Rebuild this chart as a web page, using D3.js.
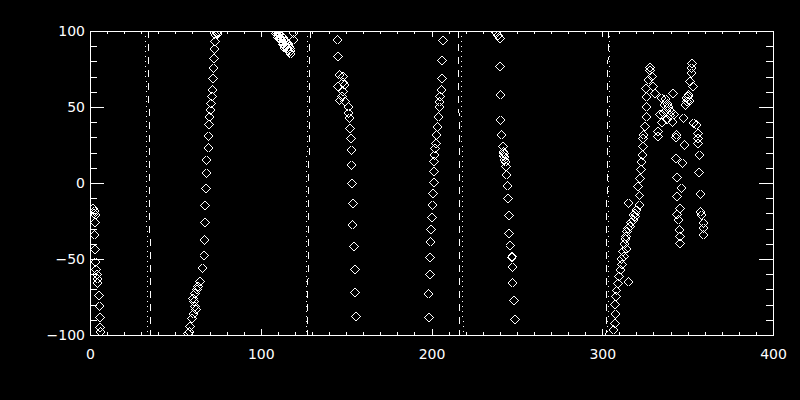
<!DOCTYPE html>
<html>
<head>
<meta charset="utf-8">
<script src="https://cdn.jsdelivr.net/npm/d3@7"></script>
<style>
  body { margin: 0; background: #000; }
  text { font-family: "DejaVu Sans", sans-serif; font-size: 14px; fill: #fff; }
</style>
</head>
<body>
<script>
// Screen dimensions.
const WIDTH = 800;
const HEIGHT = 400;

// Tick labels
const X_LABELS = [0, 100, 200, 300, 400];
const Y_LABELS = [-100, -50, 0, 50, 100];

// Boundary lines (x at y=+100 and x at y=-100)
const dashedTop = [34.2, 128.9, 215.9, 303.5];
const dashedBottom = [35.6, 127.4, 216.7, 302.2];
const dottedTop = [32.6, 127.5, 217.5, 304.5];
const dottedBottom = [33.8, 126.5, 218.5, 303.3];

// Points, [x, y]
const trackA = [
  [1.8, -17], [2.3, -20], [2.5, -18.5], [3, -21], [2.7, -26], [2.7, -34], [2.9, -44],
  [3.3, -52], [3.4, -57], [4.3, -63], [4.5, -66], [4.0, -60], [5.1, -74], [5.7, -81],
  [5.7, -88.6], [5.9, -95], [6.0, -98]
];
const trackB = [
  [58.2, -97.8], [57.5, -99], [58.6, -94.5], [59.6, -89], [60.5, -86], [61.5, -81.4],
  [62, -83], [61, -78], [60.2, -76], [61.5, -72.6], [62.5, -70], [63.3, -68], [64.4, -64.9],
  [66, -56.1], [66.8, -47.8], [66.8, -37.5], [67.3, -26.1], [67.3, -14.9], [67.8, -3.5],
  [68.3, 6.4], [68.3, 15.1], [69.3, 23.2], [69.3, 30.9], [69.7, 38.2], [69.9, 43.6],
  [70.3, 48], [70.7, 52.4], [71.3, 56.8], [71.6, 61.2], [71.9, 68.9], [72.2, 75.5],
  [72.8, 82], [72.8, 88], [73.2, 93], [73.6, 97.4], [74.2, 98.9], [75, 99.5], [74.8, 98]
];
const trackC = [
  [108.8, 98.5], [109.5, 97.5], [110.2, 96.8], [110.8, 95.5], [111.5, 94.8], [112, 93.5],
  [112.8, 92.8], [113.5, 91.5], [114.2, 90.5], [114.8, 89.5], [115.5, 88.5], [116, 87.2],
  [116.8, 86], [117.3, 85], [111, 98], [113, 95.5], [115, 92], [116.5, 89.8],
  [109.8, 99], [110.5, 98.2], [112.2, 96.5], [113.8, 94], [114.5, 93], [116, 91],
  [117, 88.5], [117.5, 87], [110, 95.8], [112.5, 91.8], [114, 89],
  [119, 98.6], [119, 94.2]
];
const trackD = [
  [145.1, 94.1], [145.1, 83.1], [146, 71.1], [148.3, 69.9], [145.4, 63.4], [149.3, 64.5],
  [148.3, 60.1], [146.4, 54.6], [149.3, 53.5], [147.5, 57], [148, 66], [151.3, 50.2],
  [151.3, 45.9], [151.9, 42.6], [152.3, 36], [152.9, 29.4], [152.9, 21.7], [153.3, 11.8],
  [153.3, -0.2], [153.9, -13.4], [153.9, -27.6], [154.6, -41.9], [155.2, -57.2],
  [155.2, -72.2], [155.8, -88]
];
const trackE = [
  [206.6, 93.6], [206, 80.5], [206, 68.9], [205.6, 61.2], [205, 56.8], [204.6, 53.5],
  [204.6, 49.8], [204, 43.6], [203.6, 37], [203.1, 31.6], [202.6, 26.1], [202.1, 22.8],
  [201.6, 18.4], [201.6, 14], [201.5, 7.4], [201.5, 0.5], [200.7, -6.8], [200.7, -14.5],
  [200.1, -22.8], [199.5, -30.5], [199.5, -38.6], [199.1, -48.9], [199.1, -59.9],
  [198.4, -73], [198.4, -88.4]
];
const trackF = [
  [237.5, 99.5], [238.2, 98.5], [239, 97], [240.1, 95.2], [240.1, 76.5], [240.5, 57.9],
  [240.5, 41.4], [241.1, 31.6], [241.7, 23.9], [242.2, 18], [242, 20.5], [242.5, 19.5],
  [242.8, 17], [243, 15.1], [243.3, 14], [243.6, 10.7], [244, 5.3], [244.6, -1.8],
  [245, -10.1], [245.4, -21.1], [245.4, -33.1], [246, -41.4], [247, -49.1], [247.3, -48.5],
  [247.5, -55.5], [247.5, -65.6], [248.3, -77.4], [248.9, -89.5]
];
const trackG = [
  [306.5, -96.7], [307.5, -92.3], [307.5, -86.2], [307.5, -79.8], [308.1, -74.8],
  [308.5, -70.4], [309.4, -66], [310, -61.6], [310.8, -57.2], [311.7, -53.5], [311, -50],
  [312.7, -48.5], [312, -45], [314.3, -43.4], [313, -40], [313.5, -37], [314, -35],
  [315.3, -64.9], [314.3, -32], [315, -30], [316.2, -28.8], [317, -26], [318.2, -24.3],
  [319.2, -22.2], [318.2, -21.1], [319, -20], [320, -18], [315.3, -13.4], [321.7, -14.5],
  [321.7, -7.9], [321.1, -2.4], [322.1, 3.1], [322.7, 8.6], [323.1, 14], [323.5, 18.4],
  [324, 23.9], [324, 29.4], [324, 31.6], [325, 37], [326, 43.6], [326, 50.2], [326, 56.8],
  [325.6, 62.3], [327, 67.8], [328, 74.3], [328, 75.7], [329, 69.9], [329.9, 63.4],
  [330.9, 59]
];
const trackH = [
  [334.8, 55.7], [336.7, 51.3], [337.7, 48], [339.7, 44.7], [341.6, 59], [337, 55],
  [338, 52], [339, 50], [340, 47], [336, 46], [341, 40], [338, 42], [342, 45], [334, 45],
  [335, 40], [332.8, 33.8], [343.6, 31.6], [347.5, 42.6], [353.3, 39.3], [355.3, 38.2],
  [356.2, 32.7], [332.8, 30.5], [343.2, 29.8], [347.9, 25], [343.2, 16.3], [347.1, 13],
  [343.6, 3.5], [346.5, -3.5], [343.6, -9], [345.5, -16.6], [343.9, -20.6], [344.5, -24.3],
  [345.5, -30.9], [345.5, -35.3], [345.5, -39.7]
];
const trackI = [
  [352.4, 78.6], [352.4, 75.5], [352.4, 72.2], [351.4, 66.6], [353, 63.4], [350.4, 56.8],
  [349.5, 53.5], [348.5, 51.3], [349.5, 56], [350.5, 58], [351, 54], [356.2, 29.4],
  [356.2, 26.1], [357.2, 18.4], [356.8, 7], [357.6, -7.4], [357.6, -18.9], [358.2, -21.1],
  [359.2, -26.5], [359.2, -29.8], [359.2, -34.2]
];

const tracks = [trackA, trackB, trackC, trackD, trackE, trackF, trackG, trackH, trackI];

// Plot area
const LEFT = 90, RIGHT = 773, TOP = 31, BOTTOM = 335;

const x = d3.scaleLinear().domain([0, 400]).range([LEFT, RIGHT]);
const y = d3.scaleLinear().domain([-100, 100]).range([BOTTOM, TOP]);

const svg = d3.select("body").append("svg").attr("width", WIDTH).attr("height", HEIGHT);

svg.append("defs").append("clipPath").attr("id", "plot")
  .append("rect").attr("x", LEFT).attr("y", TOP)
  .attr("width", RIGHT - LEFT).attr("height", BOTTOM - TOP);

const minorX = d3.range(0, 401, 10);
const minorY = d3.range(-100, 101, 10);

function styleAxis(g) {
  g.select(".domain").remove();
  g.selectAll("line").attr("stroke", "#fff").attr("shape-rendering", "crispEdges");
  g.selectAll("text").attr("fill", "#fff").style("font-size", "14px")
    .style("font-family", "DejaVu Sans, sans-serif");
}

// Bottom axis
svg.append("g").attr("transform", `translate(0,${BOTTOM})`)
  .call(d3.axisBottom(x).tickValues(minorX).tickSizeInner(-3).tickSizeOuter(0).tickFormat(""))
  .call(styleAxis);
svg.append("g").attr("transform", `translate(0,${BOTTOM})`)
  .call(d3.axisBottom(x).tickValues(X_LABELS).tickSizeInner(-6).tickSizeOuter(0).tickPadding(14))
  .call(styleAxis);

// Top axis
svg.append("g").attr("transform", `translate(0,${TOP})`)
  .call(d3.axisTop(x).tickValues(minorX).tickSizeInner(-3).tickSizeOuter(0).tickFormat(""))
  .call(styleAxis);
svg.append("g").attr("transform", `translate(0,${TOP})`)
  .call(d3.axisTop(x).tickValues(X_LABELS).tickSizeInner(-6).tickSizeOuter(0).tickFormat(""))
  .call(styleAxis);

// Left axis
svg.append("g").attr("transform", `translate(${LEFT},0)`)
  .call(d3.axisLeft(y).tickValues(minorY).tickSizeInner(-7).tickSizeOuter(0).tickFormat(""))
  .call(styleAxis);
svg.append("g").attr("transform", `translate(${LEFT},0)`)
  .call(d3.axisLeft(y).tickValues(Y_LABELS).tickSizeInner(-14).tickSizeOuter(0).tickPadding(5)
    .tickFormat(d => d < 0 ? "\u2212" + Math.abs(d) : d))
  .call(styleAxis);

// Right axis
svg.append("g").attr("transform", `translate(${RIGHT},0)`)
  .call(d3.axisRight(y).tickValues(minorY).tickSizeInner(-7).tickSizeOuter(0).tickFormat(""))
  .call(styleAxis);
svg.append("g").attr("transform", `translate(${RIGHT},0)`)
  .call(d3.axisRight(y).tickValues(Y_LABELS).tickSizeInner(-14).tickSizeOuter(0).tickFormat(""))
  .call(styleAxis);

// Frame
svg.append("rect").attr("x", LEFT).attr("y", TOP)
  .attr("width", RIGHT - LEFT).attr("height", BOTTOM - TOP)
  .attr("fill", "none").attr("stroke", "#fff").attr("shape-rendering", "crispEdges");

const plot = svg.append("g").attr("clip-path", "url(#plot)");

// Boundary lines
plot.selectAll("line.dashed").data(dashedTop)
  .enter().append("line").attr("class", "dashed")
  .attr("x1", d => x(d)).attr("y1", y(100))
  .attr("x2", (d, i) => x(dashedBottom[i])).attr("y2", y(-100))
  .attr("stroke", "#fff").attr("stroke-dasharray", "7,6")
  .attr("shape-rendering", "crispEdges");

plot.selectAll("line.dotted").data(dottedTop)
  .enter().append("line").attr("class", "dotted")
  .attr("x1", d => x(d)).attr("y1", y(100))
  .attr("x2", (d, i) => x(dottedBottom[i])).attr("y2", y(-100))
  .attr("stroke", "#fff").attr("stroke-dasharray", "1,4")
  .attr("shape-rendering", "crispEdges");

// Diamonds
const diamond = d3.symbol().type(d3.symbolSquare).size(40.5);
tracks.forEach(track => {
  plot.append("g").selectAll("path").data(track)
    .enter().append("path")
    .attr("d", diamond)
    .attr("transform", d => `translate(${x(d[0])},${y(d[1])}) rotate(45)`)
    .attr("fill", "none")
    .attr("stroke", "#fff")
    .attr("stroke-width", 1)
    .attr("shape-rendering", "crispEdges");
});
</script>
</body>
</html>
